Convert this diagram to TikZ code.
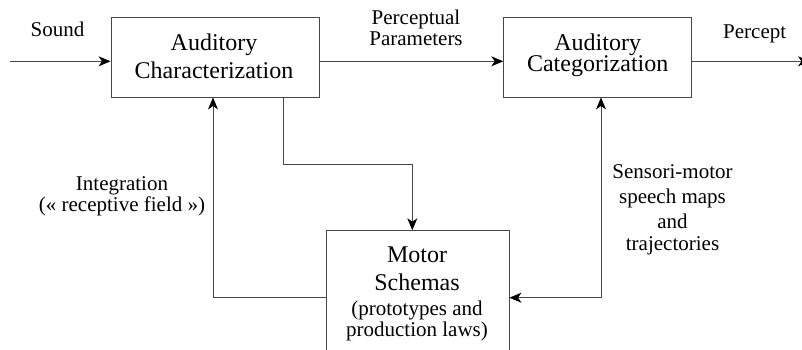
\documentclass[tikz,border=0pt]{standalone}
\usepackage{fontspec}
\setmainfont{Liberation Serif}
\usetikzlibrary{arrows.meta}
\begin{document}
\begin{tikzpicture}[x=1pt,y=-1pt,
  tip/.style={},
  line/.style={draw=black!72,line width=0.9pt},
  arr/.style={line,-{Stealth[length=12pt,width=10pt,inset=3.5pt,black]}},
  arrboth/.style={line,{Stealth[length=12pt,width=10pt,inset=3.5pt,black]}-{Stealth[length=12pt,width=10pt,inset=3.5pt,black]}},
  block/.style={draw=black!72,line width=0.9pt,rectangle,inner sep=0pt},
  big/.style={font=\fontsize{24}{28}\selectfont,inner sep=0pt,align=center},
  small/.style={font=\fontsize{21}{21.5}\selectfont,inner sep=0pt,align=center}]
\useasboundingbox (0,0) rectangle (802,349);
\clip (0,0) rectangle (802,349);

% blocks
\node[block,minimum width=208pt,minimum height=80pt] (b1) at (215,57) {};
\node[block,minimum width=188pt,minimum height=80pt] (b2) at (597.7,57) {};
\node[block,minimum width=183pt,minimum height=140pt] (motor) at (417.5,300.7) {};

% block texts (anchor base = baseline of the last line)
\node[big,anchor=base] (t1) at (214,78.3) {Auditory\\Characterization};
\node[big,anchor=base,font=\fontsize{24}{21.7}\selectfont] (t2) at (597.7,71.7) {Auditory\\Categorization};
\node[big,anchor=base] (tm) at (417,336.7) {Motor\\Schemas\\[-3pt]{\fontsize{21}{21.7}\selectfont(prototypes and}\\[-6.3pt]{\fontsize{21}{21.7}\selectfont production laws)}};

% labels
\node[small,anchor=base] (lsound) at (57.5,36.7) {Sound};
\node[small,anchor=base] (lpar) at (416,45.7) {Perceptual\\Parameters};
\node[small,anchor=base] (lpercept) at (754.7,38) {Percept};
\node[small,anchor=base] (lint) at (122,211.7) {Integration\\(« receptive field »)};
\node[small,anchor=base] (lsens) at (672.5,250) {Sensori-motor\\[3.5pt]speech maps\\[3.5pt]and\\trajectories};

% main chain
\coordinate (in) at (10,61.3);
\coordinate (out) at (810,61.3);
\draw[arr] (in) -- (b1.west |- in);
\draw[arr] (b1.east |- in) -- (b2.west |- in);
\draw[arr] (b2.east |- out) -- (out);

% feedback loops
\draw[arr] (motor.west |- 0,297.7) -| (b1.south -| 213,0);
\draw[arr] (b1.south -| 283.3,0) |- (412.3,164) -- (motor.north -| 412.3,0);
\draw[arrboth] (b2.south -| 601,0) -- (601,297.7) -- (motor.east |- 0,297.7);
\end{tikzpicture}
\end{document}
